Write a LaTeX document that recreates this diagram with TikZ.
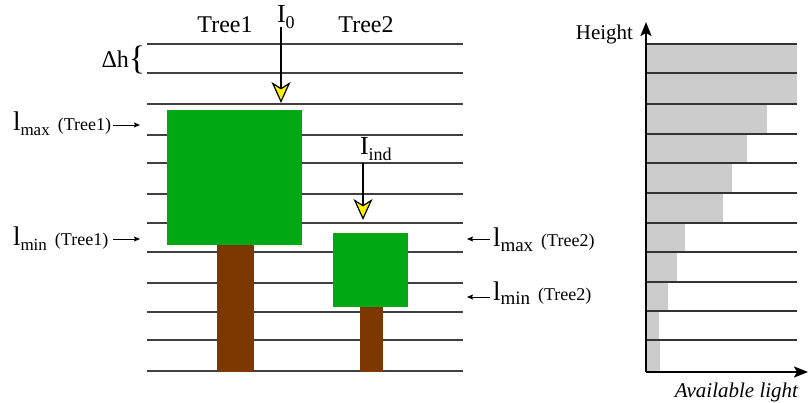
\documentclass[tikz,border=0pt]{standalone}
\usepackage{fontspec}
\setmainfont{Liberation Serif}
\usetikzlibrary{arrows.meta}
\definecolor{crown}{RGB}{0,168,20}
\definecolor{trunk}{RGB}{125,55,0}
\definecolor{lightbar}{RGB}{204,204,204}
\newcommand{\fsz}[1]{\fontsize{#1}{#1}\selectfont}
\begin{document}
\begin{tikzpicture}[x=1pt,y=-1pt,
  layer/.style={draw=black!75, line width=1.3pt},
  lightarrow/.style={line width=1.8pt, -{Stealth[length=21pt,width=19pt,inset=6pt,fill=yellow,line width=1.2pt]}},
  labarrow/.style={line width=0.9pt, -{Stealth[length=6pt,width=5pt,inset=1pt]}},
  txt/.style={inner sep=0pt, outer sep=0pt},
  block/.style={inner sep=0pt, outer sep=0pt, anchor=north west},
  barline/.style={draw=black!80, line width=1.2pt},
  axis/.style={line width=2pt, -{Stealth[length=14pt,width=11pt,inset=3pt]}},
]
\useasboundingbox (0,0) rectangle (808,403);
% layers (left)
\foreach \y in {44,73,104,135,163,194,223,252,283,312,340,371}
  \draw[layer] (147,\y) -- (463,\y);
% trees
\node[block, fill=trunk, minimum width=37pt, minimum height=127pt] (trunk1) at (217,245) {};
\node[block, fill=crown, minimum width=135pt, minimum height=135pt] (crown1) at (167,110) {};
\node[block, fill=trunk, minimum width=23pt, minimum height=65pt] (trunk2) at (360,307) {};
\node[block, fill=crown, minimum width=75pt, minimum height=74pt] (crown2) at (333,233) {};
% labels
\node[txt, anchor=base] (tree1) at (225,33) {\fsz{24}Tree1};
\node[txt, anchor=base] (tree2) at (366,33) {\fsz{24}Tree2};
\node[txt, anchor=base east] (dh) at (129,68) {\fsz{24}Δh};
\node[txt, anchor=center] (brace) at (137,60) {\fsz{34}\{};
% incoming light
\node[txt, anchor=base west] (i0) at (277,23) {\fsz{26}I\raisebox{-6pt}{\fsz{18}0}};
\coordinate (i0s) at (281,27);
\coordinate (i0e) at (281,103);
\draw[lightarrow] (i0s) -- (i0e);
\node[txt, anchor=base west] (iind) at (360,155) {\fsz{26}I\raisebox{-6pt}{\fsz{18}ind}};
\coordinate (iinds) at (363,163);
\coordinate (iinde) at (363,220);
\draw[lightarrow] (iinds) -- (iinde);
% crown limits
\node[txt, anchor=base west] (lmax1) at (13,131) {\fsz{27}l\raisebox{-5pt}{\fsz{17}max}\hspace{8pt}\fsz{18}(Tree1)};
\node[txt, anchor=base west] (lmin1) at (13,246) {\fsz{27}l\raisebox{-5pt}{\fsz{17}min}\hspace{8pt}\fsz{18}(Tree1)};
\node[txt, anchor=base west] (lmax2) at (493,247) {\fsz{27}l\raisebox{-5pt}{\fsz{19}max}\hspace{8pt}\fsz{18}(Tree2)};
\node[txt, anchor=base west] (lmin2) at (493,300) {\fsz{27}l\raisebox{-5pt}{\fsz{19}min}\hspace{8pt}\fsz{18}(Tree2)};
\coordinate (a1s) at (113,125); \coordinate (a1e) at (140,125);
\coordinate (a2s) at (113,239); \coordinate (a2e) at (140,239);
\coordinate (a3s) at (490,239); \coordinate (a3e) at (467,239);
\coordinate (a4s) at (490,297); \coordinate (a4e) at (467,297);
\draw[labarrow] (a1s) -- (a1e);
\draw[labarrow] (a2s) -- (a2e);
\draw[labarrow] (a3s) -- (a3e);
\draw[labarrow] (a4s) -- (a4e);
% light profile
\foreach \a/\b/\r in {44/73/797,73/104/797,104/134/767,134/163/747,163/193/732,193/223/723,223/252/685,252/282/677,282/311/668,311/340/659,340/372/660}
  \fill[lightbar] (646,\a) rectangle (\r,\b);
\foreach \y in {44,73,104,134,163,193,223,252,282,311,340}
  \draw[barline] (646,\y) -- (797,\y);
\coordinate (origin) at (646,372);
\coordinate (ytop) at (646,22);
\coordinate (xend) at (808,372);
\draw[axis] (origin) -- (ytop);
\draw[axis] (origin) -- (xend);
\node[txt, anchor=base east] (height) at (633,40) {\fsz{21}Height};
\node[txt, anchor=base east] (avail) at (798,397) {\fsz{21}\itshape Available light};
\end{tikzpicture}
\end{document}
